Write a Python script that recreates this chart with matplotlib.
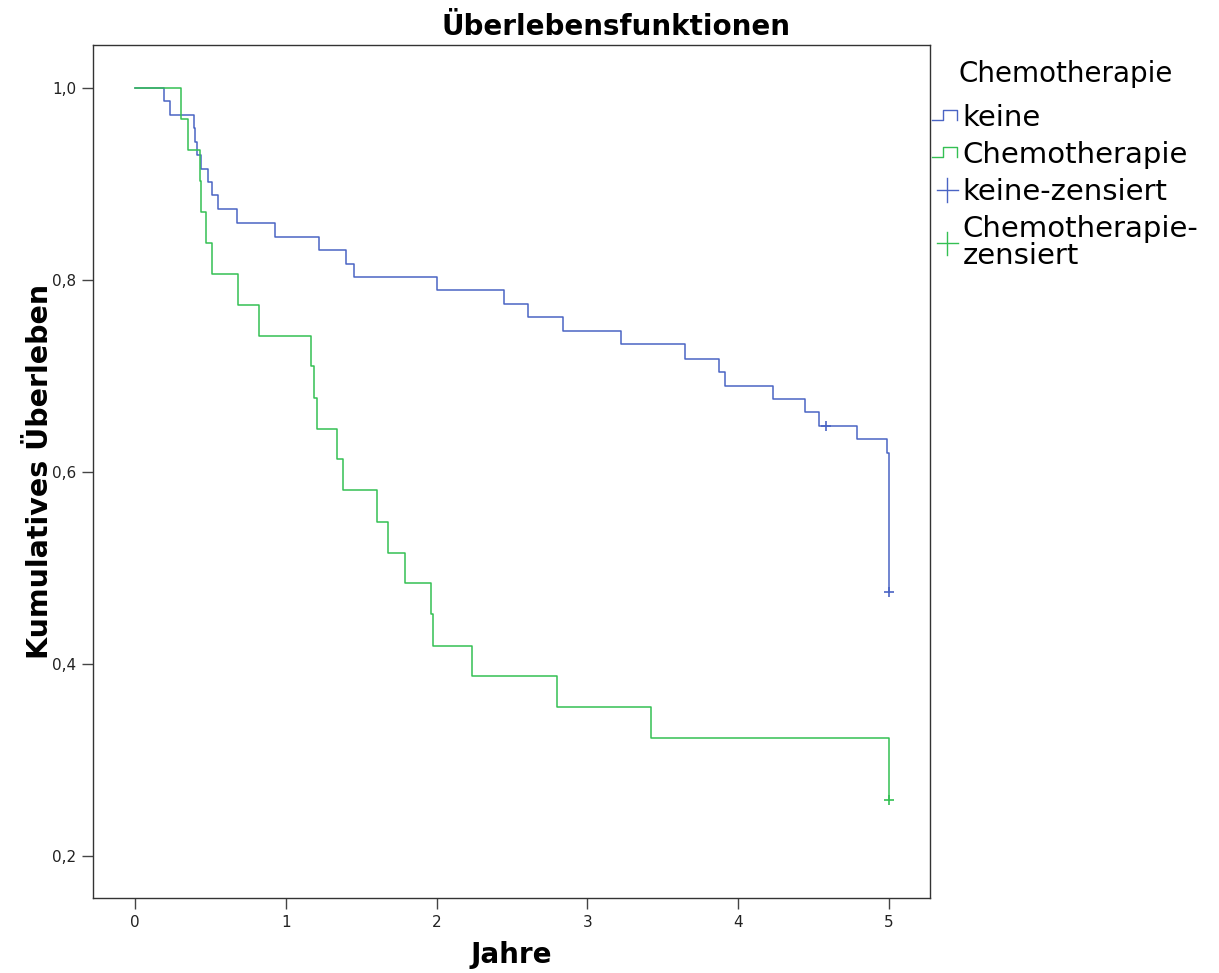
import matplotlib
matplotlib.use("Agg")
import matplotlib.pyplot as plt
from matplotlib.legend_handler import HandlerBase
from matplotlib.lines import Line2D
from matplotlib.ticker import FuncFormatter

# Kaplan-Meier steps (time in years, cumulative survival)
keine_t = [0, 0.19, 0.23, 0.39, 0.40, 0.41, 0.44, 0.486, 0.513, 0.548, 0.679, 0.928,
           1.222, 1.397, 1.455, 2.00, 2.45, 2.608, 2.84, 3.22, 3.647, 3.873, 3.912,
           4.233, 4.443, 4.536, 4.788, 4.985, 5.0]
keine_s = [1.0, 0.986, 0.972, 0.958, 0.944, 0.930, 0.916, 0.902, 0.888, 0.874, 0.859, 0.845,
           0.831, 0.817, 0.803, 0.789, 0.775, 0.761, 0.747, 0.733, 0.718, 0.704, 0.690,
           0.676, 0.662, 0.648, 0.634, 0.620, 0.475]
keine_cens_t = [4.58, 5.0]
keine_cens_s = [0.648, 0.475]

chemo_t = [0, 0.305, 0.354, 0.431, 0.438, 0.468, 0.513, 0.68, 0.824, 1.167, 1.187, 1.209,
           1.337, 1.381, 1.602, 1.680, 1.790, 1.961, 1.979, 2.237, 2.797, 3.422, 5.0]
chemo_s = [1.0, 0.968, 0.935, 0.903, 0.871, 0.839, 0.806, 0.774, 0.742, 0.710, 0.677, 0.645,
           0.613, 0.581, 0.548, 0.516, 0.484, 0.452, 0.419, 0.387, 0.355, 0.323, 0.258]
chemo_cens_t = [5.0]
chemo_cens_s = [0.258]

x_ticks = [0, 1, 2, 3, 4, 5]
y_ticks = [0.2, 0.4, 0.6, 0.8, 1.0]
legend_labels = ["keine", "Chemotherapie", "keine-zensiert", "Chemotherapie-\nzensiert"]

blue = "#4a64c4"
green = "#34c053"


class StepHandler(HandlerBase):
    # small step glyph like the SPSS legend
    def create_artists(self, legend, orig_handle, xdescent, ydescent, width, height, fontsize, trans):
        x0 = -xdescent
        y0 = -ydescent + height * 0.3
        h = height * 0.5
        xs = [x0, x0 + width * 0.44, x0 + width * 0.44, x0 + width, x0 + width]
        ys = [y0, y0, y0 + h, y0 + h, y0]
        line = Line2D(xs, ys, color=orig_handle.get_color(), lw=1.0, transform=trans)
        return [line]


class CrossHandler(HandlerBase):
    def create_artists(self, legend, orig_handle, xdescent, ydescent, width, height, fontsize, trans):
        cx = -xdescent + width * 0.6
        cy = -ydescent + height * 0.5
        hw = width * 0.42
        hh = height * 0.58
        l1 = Line2D([cx - hw, cx + hw], [cy, cy], color=orig_handle.get_color(), lw=1.0, transform=trans)
        l2 = Line2D([cx, cx], [cy - hh, cy + hh], color=orig_handle.get_color(), lw=1.0, transform=trans)
        return [l1, l2]


fig = plt.figure(figsize=(12.19, 9.73), dpi=100)
ax = fig.add_axes([93 / 1219, 1 - 898 / 973, (930 - 93) / 1219, (898 - 45) / 973])

l_keine, = ax.step(keine_t, keine_s, where="post", color=blue, lw=1.1)
l_chemo, = ax.step(chemo_t, chemo_s, where="post", color=green, lw=1.1)
c_keine, = ax.plot(keine_cens_t, keine_cens_s, "+", color=blue, ms=7, mew=1.2)
c_chemo, = ax.plot(chemo_cens_t, chemo_cens_s, "+", color=green, ms=7, mew=1.2)

ax.set_xlim(-0.279, 5.272)
ax.set_ylim(0.156, 1.0448)
ax.set_xticks(x_ticks)
ax.set_yticks(y_ticks)
ax.xaxis.set_major_formatter(FuncFormatter(lambda v, p: "%d" % v))
ax.yaxis.set_major_formatter(FuncFormatter(lambda v, p: ("%.1f" % v).replace(".", ",")))
ax.tick_params(direction="out", length=8, width=1, color="#444444", labelsize=11,
               labelcolor="#222222", pad=4)
for s in ax.spines.values():
    s.set_color("#333333")
    s.set_linewidth(1.0)

ax.set_xlabel("Jahre", fontsize=20, fontweight="bold")
ax.set_ylabel("Kumulatives Überleben", fontsize=20.5, fontweight="bold")
ax.xaxis.set_label_coords(0.5, -0.05)
ax.yaxis.set_label_coords(-0.046, 0.5)

fig.text(0.505, 1 - 35 / 973, "Überlebensfunktionen", ha="center", va="baseline",
         fontsize=20, fontweight="bold")

# legend title drawn on its own so its gap to the entries matches
fig.text(958 / 1219, 1 - 82 / 973, "Chemotherapie", ha="left", va="baseline", fontsize=20)

leg = ax.legend([l_keine, l_chemo, c_keine, c_chemo], legend_labels,
                handler_map={l_keine: StepHandler(), l_chemo: StepHandler(),
                             c_keine: CrossHandler(), c_chemo: CrossHandler()},
                fontsize=21, loc="upper left", bbox_to_anchor=(932 / 1219, 1 - 104 / 973),
                bbox_transform=fig.transFigure, frameon=False, borderpad=0,
                borderaxespad=0, handlelength=0.86, handletextpad=0.18,
                labelspacing=0.31)
leg.get_texts()[3].set_linespacing(0.95)

plt.savefig("out.png", dpi=100)
